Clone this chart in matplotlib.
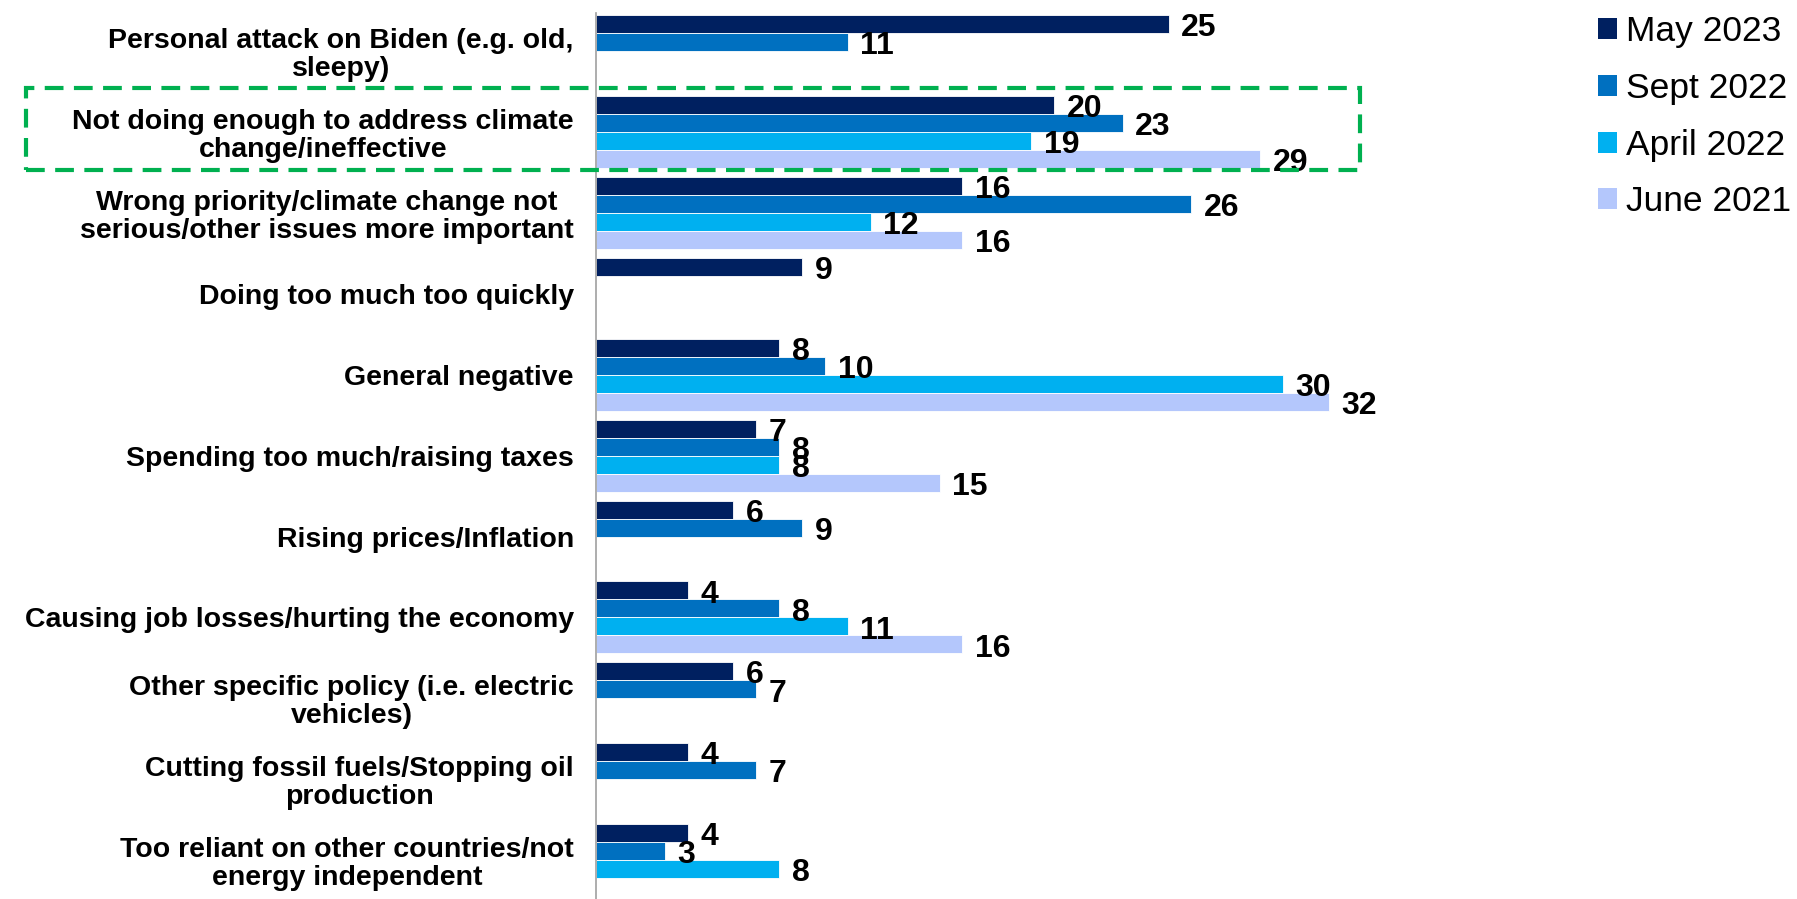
import matplotlib
matplotlib.use("Agg")
import matplotlib.pyplot as plt
from matplotlib import font_manager
from matplotlib.patches import Rectangle, Patch

# chart data
categories = [
    "Personal attack on Biden (e.g. old,\nsleepy)",
    "Not doing enough to address climate\nchange/ineffective",
    "Wrong priority/climate change not\nserious/other issues more important",
    "Doing too much too quickly",
    "General negative",
    "Spending too much/raising taxes",
    "Rising prices/Inflation",
    "Causing job losses/hurting the economy",
    "Other specific policy (i.e. electric\nvehicles)",
    "Cutting fossil fuels/Stopping oil\nproduction",
    "Too reliant on other countries/not\nenergy independent",
]
series = ["May 2023", "Sept 2022", "April 2022", "June 2021"]
may_2023 = [25, 20, 16, 9, 8, 7, 6, 4, 6, 4, 4]
sept_2022 = [11, 23, 26, None, 10, 8, 9, 8, 7, 7, 3]
april_2022 = [None, 19, 12, None, 30, 8, None, 11, None, None, 8]
june_2021 = [None, 29, 16, None, 32, 15, None, 16, None, None, None]
colors = ["#002060", "#0070C0", "#00B0F0", "#B4C7FC"]

# narrow bold font if we have it, otherwise plain Liberation Sans a bit smaller
names = {f.name for f in font_manager.fontManager.ttflist}
if "Liberation Sans Narrow" in names:
    bold_font, cat_size, num_size = "Liberation Sans Narrow", 24, 27
else:
    bold_font, cat_size, num_size = "Liberation Sans", 20.5, 23

W, H = 1797, 899
fig = plt.figure(figsize=(W / 100, H / 100), dpi=100)
ax = fig.add_axes([596 / W, 0, (1500 - 596) / W, (H - 13) / H])

bar_w = 0.2225
all_vals = [may_2023, sept_2022, april_2022, june_2021]
for j, vals in enumerate(all_vals):
    for i, v in enumerate(vals):
        if v is None:
            continue
        y = i + (j - 1.5) * bar_w
        ax.barh(y, v, height=bar_w, color=colors[j], edgecolor="white", linewidth=0.6)
        ax.annotate(str(v), (v, y), xytext=(9, -3), textcoords="offset points",
                    ha="left", va="center", fontsize=num_size, fontweight="bold",
                    family=bold_font, color="black")

ax.set_xlim(0, (1500 - 596) / 22.9)
ax.set_ylim(10.48, -0.47)
ax.set_yticks(range(len(categories)))
ax.set_yticklabels(categories, fontsize=cat_size, fontweight="bold", family=bold_font,
                   multialignment="center", linespacing=1.1)
ax.tick_params(axis="y", length=0, pad=16)
ax.set_xticks([])
for s in ["top", "right", "bottom"]:
    ax.spines[s].set_visible(False)
ax.spines["left"].set_color("#a0a0a0")
ax.spines["left"].set_linewidth(1.2)

# legend
handles = [Patch(facecolor=c, edgecolor="none") for c in colors]
fig.legend(handles, series, loc="upper left", bbox_to_anchor=(1584 / W, 1 - 1 / H),
           frameon=False, handlelength=0.53, handleheight=0.53,
           handletextpad=0.27, labelspacing=0.67, borderaxespad=0,
           prop={"family": "Liberation Sans", "size": 25.5})

# green highlight box
box = Rectangle((26 / W, 1 - 170 / H), (1360 - 26) / W, 82 / H, transform=fig.transFigure,
                fill=False, edgecolor="#00B050", linewidth=3, linestyle=(0, (4.5, 2.5)),
                clip_on=False)
fig.patches.append(box)

fig.savefig("out.png", dpi=100)
